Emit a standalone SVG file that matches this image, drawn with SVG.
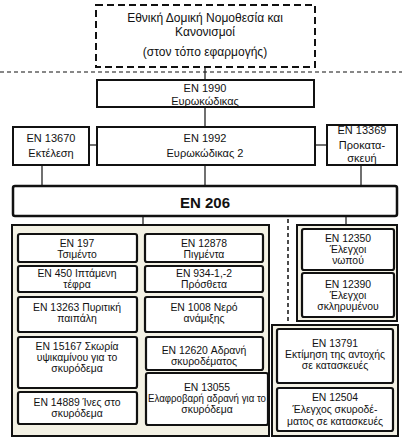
<svg xmlns="http://www.w3.org/2000/svg" width="402" height="437" viewBox="0 0 402 437">
<style>
text{font-family:"Liberation Sans",Arial,sans-serif;fill:#111;text-anchor:middle;dominant-baseline:central}
.t11{font-size:12px}
.t10{font-size:11px}
.t9{font-size:10.4px}
.box{fill:#fff;stroke:#111;stroke-width:2}
.ibox{fill:#fff;stroke:#111;stroke-width:2.2}
.cont{fill:#f3f1e4;stroke:#111;stroke-width:2}
.ln{stroke:#111;stroke-width:1.2;fill:none}
.dash{stroke:#111;stroke-width:1.2;stroke-dasharray:4 3;fill:none}
</style>
<rect width="402" height="437" fill="#fff"/>
<g id="connectors">
<line class="dash" x1="0" y1="72" x2="402" y2="72"/>
<line class="ln" x1="205" y1="67" x2="205" y2="80"/>
<line class="ln" x1="205" y1="107" x2="205" y2="127"/>
<line class="ln" x1="89" y1="145" x2="97" y2="145"/>
<line class="ln" x1="315" y1="145" x2="327" y2="145"/>
<line class="ln" x1="42" y1="165" x2="42" y2="186"/>
<line class="ln" x1="205" y1="165" x2="205" y2="186"/>
<line class="ln" x1="361" y1="165" x2="361" y2="186"/>
<line class="ln" x1="143" y1="216" x2="143" y2="225"/>
<line class="ln" x1="346" y1="216" x2="346" y2="225"/>
<line class="dash" style="stroke-width:1.5" x1="288" y1="219" x2="288" y2="324"/>
</g>
<g id="national">
<rect x="96" y="5" width="219" height="62" fill="#fff" stroke="#111" stroke-width="2" stroke-dasharray="7 4"/>
<text class="t11" x="205" y="18">Εθνική Δομική Νομοθεσία και</text>
<text class="t11" x="205" y="32">Κανονισμοί</text>
<text class="t11" x="205" y="52">(στον τόπο εφαρμογής)</text>
</g>
<g id="en1990">
<rect class="box" x="97" y="80" width="217" height="27"/>
<text class="t10" x="205" y="88">EN 1990</text>
<text class="t10" x="205" y="101">Ευρωκώδικας</text>
</g>
<g id="en13670">
<rect class="box" x="13" y="127" width="76" height="38"/>
<text class="t10" x="51" y="138">EN 13670</text>
<text class="t10" x="51" y="153">Εκτέλεση</text>
</g>
<g id="en1992">
<rect class="box" x="97" y="127" width="218" height="38"/>
<text class="t10" x="205" y="138">EN 1992</text>
<text class="t10" x="205" y="153">Ευρωκώδικας 2</text>
</g>
<g id="en13369">
<rect class="box" x="327" y="125" width="70" height="40"/>
<text class="t10" x="362" y="130">EN 13369</text>
<text class="t10" x="362" y="145">Προκατα-</text>
<text class="t10" x="362" y="158">σκευή</text>
</g>
<g id="en206">
<rect x="13" y="186" width="384" height="30" rx="2" fill="#fff" stroke="#111" stroke-width="2.5"/>
<text x="205" y="202" style="font-size:15px;font-weight:bold">EN 206</text>
</g>
<g id="materials">
<rect class="cont" x="12" y="225" width="257" height="211"/>
</g>
<g id="en197">
<rect class="ibox" x="18" y="234" width="119" height="28" rx="2"/>
<text class="t9" x="77" y="243">EN 197</text>
<text class="t9" x="77" y="254">Τσιμέντο</text>
</g>
<g id="en12878">
<rect class="ibox" x="145" y="234" width="118" height="28" rx="2"/>
<text class="t9" x="204" y="243">EN 12878</text>
<text class="t9" x="204" y="254">Πιγμέντα</text>
</g>
<g id="en450">
<rect class="ibox" x="18" y="266" width="119" height="26" rx="2"/>
<text class="t9" x="77" y="273">EN 450 Ιπτάμενη</text>
<text class="t9" x="77" y="284">τέφρα</text>
</g>
<g id="en934">
<rect class="ibox" x="145" y="266" width="118" height="26" rx="2"/>
<text class="t9" x="204" y="273">EN 934-1,-2</text>
<text class="t9" x="204" y="284">Πρόσθετα</text>
</g>
<g id="en13263">
<rect class="ibox" x="18" y="297" width="119" height="35" rx="2"/>
<text class="t9" x="77" y="307">EN 13263 Πυριτική</text>
<text class="t9" x="77" y="318">παιπάλη</text>
</g>
<g id="en1008">
<rect class="ibox" x="145" y="297" width="118" height="35" rx="2"/>
<text class="t9" x="204" y="307">EN 1008 Νερό</text>
<text class="t9" x="204" y="318">ανάμιξης</text>
</g>
<g id="en15167">
<rect class="ibox" x="18" y="337" width="119" height="51" rx="2"/>
<text class="t9" x="77" y="346">EN 15167 Σκωρία</text>
<text class="t9" x="77" y="357">υψικαμίνου για το</text>
<text class="t9" x="77" y="368">σκυρόδεμα</text>
</g>
<g id="en12620">
<rect class="ibox" x="146" y="337" width="117" height="33" rx="2"/>
<text class="t9" x="204" y="350">EN 12620 Αδρανή</text>
<text class="t9" x="204" y="361">σκυροδέματος</text>
</g>
<g id="en14889">
<rect class="ibox" x="18" y="392" width="119" height="32" rx="2"/>
<text class="t9" x="77" y="402">EN 14889 Ίνες στο</text>
<text class="t9" x="77" y="413">σκυρόδεμα</text>
</g>
<g id="en13055">
<rect class="ibox" x="146" y="373" width="122" height="52" rx="2"/>
<text class="t9" x="207" y="387">EN 13055</text>
<text class="t9" x="207" y="398" textLength="118" lengthAdjust="spacingAndGlyphs">Ελαφροβαρή αδρανή για το</text>
<text class="t9" x="207" y="409">σκυρόδεμα</text>
</g>
<g id="testing">
<rect class="cont" x="297" y="225" width="100" height="96"/>
</g>
<g id="en12350">
<rect class="ibox" x="302" y="229" width="92" height="41" rx="2"/>
<text class="t9" x="348" y="238.5">EN 12350</text>
<text class="t9" x="348" y="249.5">Έλεγχοι</text>
<text class="t9" x="348" y="260.5">νωπού</text>
</g>
<g id="en12390">
<rect class="ibox" x="302" y="273" width="92" height="44" rx="2"/>
<text class="t9" x="348" y="284">EN 12390</text>
<text class="t9" x="348" y="295">Έλεγχοι</text>
<text class="t9" x="348" y="306">σκληρυμένου</text>
</g>
<g id="structures">
<rect class="cont" x="272" y="325" width="126" height="111"/>
</g>
<g id="en13791">
<rect class="ibox" x="277" y="329" width="116" height="54" rx="2"/>
<text class="t9" x="335" y="343">EN 13791</text>
<text class="t9" x="335" y="354">Εκτίμηση της αντοχής</text>
<text class="t9" x="335" y="365">σε κατασκευές</text>
</g>
<g id="en12504">
<rect class="ibox" x="277" y="388" width="116" height="43" rx="2"/>
<text class="t9" x="335" y="397">EN 12504</text>
<text class="t9" x="335" y="409">Έλεγχος σκυροδέ-</text>
<text class="t9" x="335" y="421">ματος σε κατασκευές</text>
</g>
</svg>
